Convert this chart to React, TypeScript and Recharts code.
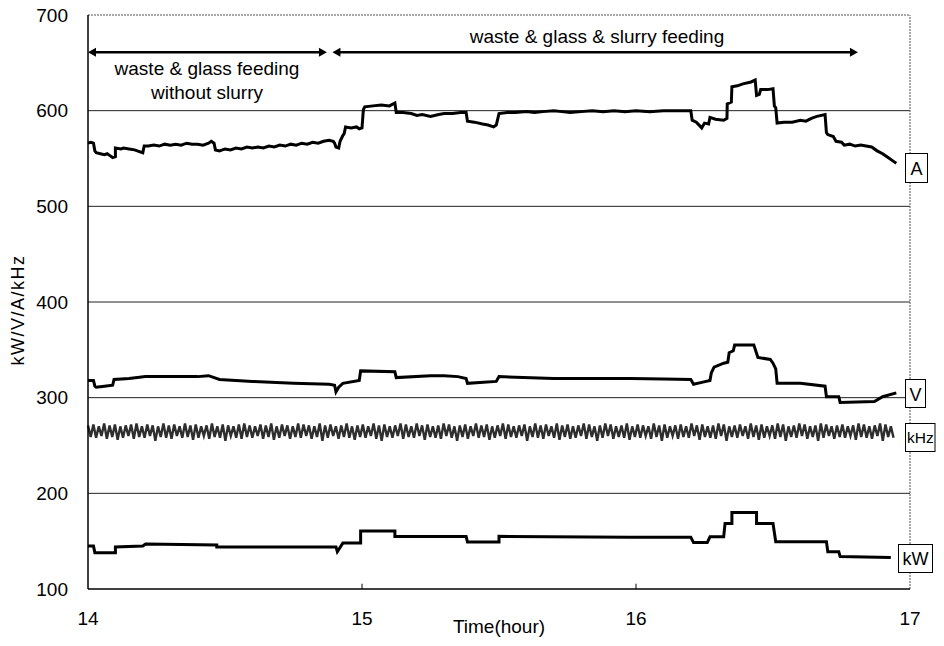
import React from 'react';
import { LineChart, Line, XAxis, YAxis, ReferenceLine } from 'recharts';

const X_TICKS = [14, 15, 16, 17];
const Y_TICKS = [100, 200, 300, 400, 500, 600, 700];
const GRID_VALUES = [200, 300, 400, 500, 600];
const INNER_TICKS = [15, 16];

// Current (A)
const A_POINTS: [number, number][] = [
  [14.0, 566], [14.01, 567], [14.02, 566], [14.025, 558], [14.03, 556], [14.045, 555], [14.06, 554],
  [14.07, 555], [14.08, 553], [14.09, 551], [14.1, 552], [14.1, 561], [14.12, 560], [14.13, 561],
  [14.15, 560], [14.17, 559], [14.18, 558], [14.19, 557], [14.2, 556], [14.205, 563], [14.22, 563],
  [14.24, 564], [14.26, 563], [14.28, 565], [14.3, 564], [14.32, 565], [14.34, 564], [14.36, 566],
  [14.38, 565], [14.4, 565], [14.42, 564], [14.44, 566], [14.45, 568], [14.46, 566], [14.465, 559],
  [14.48, 558], [14.5, 560], [14.52, 559], [14.54, 561], [14.56, 560], [14.58, 562], [14.6, 561],
  [14.62, 562], [14.64, 561], [14.66, 563], [14.68, 562], [14.7, 564], [14.72, 563], [14.74, 565],
  [14.76, 564], [14.78, 566], [14.8, 565], [14.82, 567], [14.84, 566], [14.86, 568], [14.88, 569],
  [14.895, 568], [14.9, 566], [14.905, 562], [14.915, 561], [14.92, 568], [14.93, 574], [14.935, 576],
  [14.94, 583], [14.96, 582], [14.98, 583], [14.99, 581], [15.0, 582], [15.005, 601], [15.01, 604],
  [15.04, 605], [15.07, 606], [15.1, 605], [15.12, 608], [15.125, 598], [15.15, 598], [15.18, 597],
  [15.2, 595], [15.22, 596], [15.25, 594], [15.28, 596], [15.3, 597], [15.33, 597], [15.36, 598],
  [15.38, 598], [15.385, 589], [15.41, 588], [15.44, 586], [15.46, 585], [15.48, 583], [15.49, 585],
  [15.5, 597], [15.53, 598], [15.56, 598], [15.6, 599], [15.63, 598], [15.66, 599], [15.7, 600],
  [15.73, 599], [15.76, 598], [15.8, 599], [15.84, 600], [15.88, 599], [15.92, 600], [15.96, 599],
  [16.0, 600], [16.05, 599], [16.1, 600], [16.15, 600], [16.2, 600], [16.205, 590], [16.22, 588],
  [16.24, 582], [16.25, 587], [16.265, 586], [16.27, 593], [16.29, 591], [16.32, 590], [16.332, 592],
  [16.333, 607], [16.348, 609], [16.35, 625], [16.37, 626], [16.39, 628], [16.42, 630], [16.435, 632],
  [16.44, 616], [16.45, 617], [16.455, 622], [16.48, 622], [16.5, 623], [16.505, 605], [16.51, 603],
  [16.515, 587], [16.54, 588], [16.57, 588], [16.6, 590], [16.62, 589], [16.64, 592], [16.66, 594],
  [16.69, 596], [16.695, 577], [16.7, 575], [16.72, 573], [16.73, 568], [16.75, 567], [16.76, 564],
  [16.78, 565], [16.8, 563], [16.82, 564], [16.84, 563], [16.86, 562], [16.88, 558], [16.9, 555],
  [16.92, 551], [16.94, 547], [16.95, 545],
];

// Voltage (V)
const V_POINTS: [number, number][] = [
  [14.0, 318], [14.02, 318], [14.025, 312], [14.03, 311], [14.06, 312], [14.09, 313], [14.095, 319],
  [14.15, 320], [14.21, 322], [14.3, 322], [14.4, 322], [14.44, 323], [14.48, 319], [14.6, 317],
  [14.75, 315], [14.88, 314], [14.9, 313], [14.905, 306], [14.915, 311], [14.93, 315], [14.99, 318],
  [14.995, 328], [15.12, 327], [15.125, 321], [15.25, 323], [15.3, 323], [15.35, 322], [15.38, 320],
  [15.385, 315], [15.49, 317], [15.5, 322], [15.7, 320], [15.98, 320], [16.1, 319.5], [16.2, 319],
  [16.21, 314], [16.24, 316], [16.27, 318], [16.275, 326], [16.285, 332], [16.32, 336], [16.335, 337],
  [16.34, 347], [16.355, 349], [16.36, 355], [16.43, 355], [16.445, 342], [16.49, 340], [16.5, 336],
  [16.51, 330], [16.515, 315], [16.6, 315], [16.69, 312], [16.695, 301], [16.74, 301], [16.745, 295],
  [16.87, 296], [16.9, 301], [16.95, 305],
];

// Power (kW)
const KW_POINTS: [number, number][] = [
  [14.0, 145], [14.02, 145], [14.025, 138], [14.1, 138], [14.1, 144], [14.2, 145], [14.21, 147],
  [14.47, 146], [14.47, 144], [14.905, 144], [14.91, 139], [14.93, 148], [14.995, 148], [14.995, 160.5],
  [15.12, 160.5], [15.12, 155], [15.38, 155], [15.385, 149], [15.5, 149], [15.5, 155], [15.98, 154],
  [16.2, 154], [16.21, 148.5], [16.26, 148.5], [16.27, 154.5], [16.32, 154.5], [16.325, 168.5],
  [16.35, 168.5], [16.35, 180], [16.44, 180], [16.44, 168.5], [16.5, 168.5], [16.51, 149.5],
  [16.695, 149.5], [16.7, 139], [16.74, 139], [16.745, 134], [16.93, 133],
];

// Frequency (kHz) samples, evenly spaced in time
const KHZ_START = 14.0;
const KHZ_END = 16.94;
const KHZ_VALUES = [
  271, 259, 272, 258, 270, 260, 273, 257, 271, 259, 272, 256, 270, 258, 271, 260, 272, 257, 273, 259,
  270, 258, 272, 260, 271, 255, 270, 259, 273, 258, 271, 257, 272, 260, 270, 258, 273, 259, 271, 256,
  272, 258, 270, 260, 271, 257, 273, 259, 270, 258, 272, 255, 271, 260, 270, 258, 272, 257, 273, 259,
  271, 258, 270, 260, 272, 257, 271, 259, 273, 256, 270, 258, 272, 260, 271, 257, 270, 259, 273, 258,
  272, 260, 271, 257, 270, 259, 273, 255, 271, 258, 272, 260, 270, 257, 271, 259, 273, 258, 270, 256,
  271, 259, 272, 258, 270, 260, 273, 257, 271, 255, 272, 259, 270, 258, 271, 260, 273, 257, 272, 259,
  270, 258, 273, 260, 271, 256, 272, 259, 270, 258, 271, 257, 273, 260, 272, 258, 270, 255, 271, 259,
  272, 257, 270, 260, 273, 258, 271, 259, 272, 256, 270, 258, 271, 260, 273, 257, 272, 259, 270, 258,
  271, 260, 272, 255, 270, 259, 273, 258, 271, 257, 272, 260, 270, 258, 273, 256, 271, 259, 272, 257,
  270, 258, 271, 260, 273, 257, 272, 259, 270, 255, 271, 258, 273, 260, 272, 257, 270, 259, 271, 258,
  273, 256, 270, 259, 272, 258, 271, 260, 270, 257, 273, 259, 271, 255, 272, 258, 270, 260, 271, 257,
  272, 259, 270, 258, 273, 260, 271, 256, 272, 259, 270, 258, 271, 257, 273, 260, 272, 255, 270, 259,
  271, 258, 272, 260, 270, 257, 273, 259, 271, 256, 272, 258, 270, 260, 271, 257, 273, 259, 272, 255,
  270, 259, 271, 258, 273, 260, 272, 257, 270, 259, 271, 255, 273, 258, 272, 260, 270, 257, 271, 259,
  272, 258, 270, 260, 271, 256, 273, 259, 272, 258, 270, 257, 271, 260, 273, 255, 272, 259, 270, 258,
];

// Annotation arrows (time range, level)
const ARROW_LEVEL = 661;
const PHASE1: [number, number] = [14.0, 14.872];
const PHASE2: [number, number] = [14.892, 16.81];

const toRows = (pts: [number, number][]) => pts.map(([x, y]) => ({ x, y }));
const aRows = toRows(A_POINTS);
const vRows = toRows(V_POINTS);
const kwRows = toRows(KW_POINTS);
const khzRows = KHZ_VALUES.map((y, i) => ({
  x: KHZ_START + (i * (KHZ_END - KHZ_START)) / (KHZ_VALUES.length - 1),
  y,
}));

const FONT = 'Arial, "Liberation Sans", Helvetica, sans-serif';

const ArrowShape = (props: any) => {
  const { x1, y1, x2, y2 } = props;
  const h = 8;
  const w = 4.5;
  return (
    <g>
      <line x1={x1 + h - 1} y1={y1} x2={x2 - h + 1} y2={y2} stroke="#000" strokeWidth={2.5} />
      <polygon points={`${x1},${y1} ${x1 + h},${y1 - w} ${x1 + h},${y1 + w}`} fill="#000" />
      <polygon points={`${x2},${y2} ${x2 - h},${y2 - w} ${x2 - h},${y2 + w}`} fill="#000" />
    </g>
  );
};

export default function App() {
  return (
    <div style={{ margin: '-8px', width: 944, height: 646, position: 'relative', background: '#fff' }}>
      <LineChart
        width={944}
        height={646}
        margin={{ top: 15, right: 34, left: 0, bottom: 5 }}
        style={{ fontFamily: FONT }}
      >
        {GRID_VALUES.map((v) => (
          <ReferenceLine key={`g${v}`} y={v} stroke="#222" strokeWidth={1} />
        ))}
        <ReferenceLine y={700} stroke="#555" strokeWidth={1} strokeDasharray="2 1" />
        <ReferenceLine x={17} stroke="#555" strokeWidth={1} strokeDasharray="2 1" />
        {INNER_TICKS.map((t) => (
          <ReferenceLine
            key={`t${t}`}
            segment={[{ x: t, y: 100 }, { x: t, y: 105.5 }]}
            stroke="#000"
            strokeWidth={1}
          />
        ))}
        <XAxis
          dataKey="x"
          type="number"
          domain={[14, 17]}
          ticks={X_TICKS}
          allowDuplicatedCategory={false}
          height={52}
          tickLine={false}
          tickSize={0}
          tickMargin={23}
          axisLine={{ stroke: '#000', strokeWidth: 1.5 }}
          tick={{ fill: '#000', fontSize: 19, fontFamily: FONT }}
        />
        <YAxis
          type="number"
          domain={[100, 700]}
          ticks={Y_TICKS}
          width={88}
          tickLine={false}
          tickSize={0}
          tickMargin={20}
          axisLine={{ stroke: '#000', strokeWidth: 1.5 }}
          tick={{ fill: '#000', fontSize: 19, fontFamily: FONT }}
        />
        <ReferenceLine
          segment={[{ x: PHASE1[0], y: ARROW_LEVEL }, { x: PHASE1[1], y: ARROW_LEVEL }]}
          shape={ArrowShape}
        />
        <ReferenceLine
          segment={[{ x: PHASE2[0], y: ARROW_LEVEL }, { x: PHASE2[1], y: ARROW_LEVEL }]}
          shape={ArrowShape}
        />
        <Line
          data={khzRows}
          dataKey="y"
          type="linear"
          stroke="#2e2e2e"
          strokeWidth={2.4}
          dot={false}
          activeDot={false}
          isAnimationActive={false}
        />
        <Line data={aRows} dataKey="y" type="linear" stroke="#000" strokeWidth={3} dot={false} activeDot={false} isAnimationActive={false} />
        <Line data={vRows} dataKey="y" type="linear" stroke="#000" strokeWidth={3} dot={false} activeDot={false} isAnimationActive={false} />
        <Line data={kwRows} dataKey="y" type="linear" stroke="#000" strokeWidth={3} dot={false} activeDot={false} isAnimationActive={false} />
      </LineChart>
      <svg
        width={944}
        height={646}
        style={{ position: 'absolute', left: 0, top: 0, pointerEvents: 'none', fontFamily: FONT }}
      >
        <text x={597} y={43} textAnchor="middle" fontSize={19} fill="#000">waste &amp; glass &amp; slurry feeding</text>
        <text x={207} y={75} textAnchor="middle" fontSize={19} fill="#000">waste &amp; glass feeding</text>
        <text x={207} y={99} textAnchor="middle" fontSize={19} fill="#000">without slurry</text>

        <text x={499} y={633} textAnchor="middle" fontSize={19} fill="#000">Time(hour)</text>
        <text
          x={0}
          y={0}
          transform="translate(24 310) rotate(-90)"
          textAnchor="middle"
          fontSize={18}
          letterSpacing={1.5}
          fill="#000"
        >
          kW/V/A/kHz
        </text>

        <rect x={905.5} y={153.5} width={22} height={29} fill="#fff" stroke="#000" strokeWidth={1} />
        <text x={916.5} y={175} textAnchor="middle" fontSize={18} fill="#000">A</text>

        <rect x={905.5} y={379.5} width={20} height={28} fill="#fff" stroke="#000" strokeWidth={1} />
        <text x={915.5} y={401} textAnchor="middle" fontSize={18} fill="#000">V</text>

        <rect x={905.5} y={423.5} width={29.5} height={28} fill="#fff" stroke="#000" strokeWidth={1} />
        <text x={920.3} y={443} textAnchor="middle" fontSize={15.5} fill="#000">kHz</text>

        <rect x={898.5} y={544.5} width={34} height={28} fill="#fff" stroke="#000" strokeWidth={1} />
        <text x={915.5} y={565} textAnchor="middle" fontSize={18} fill="#000">kW</text>
      </svg>
    </div>
  );
}
